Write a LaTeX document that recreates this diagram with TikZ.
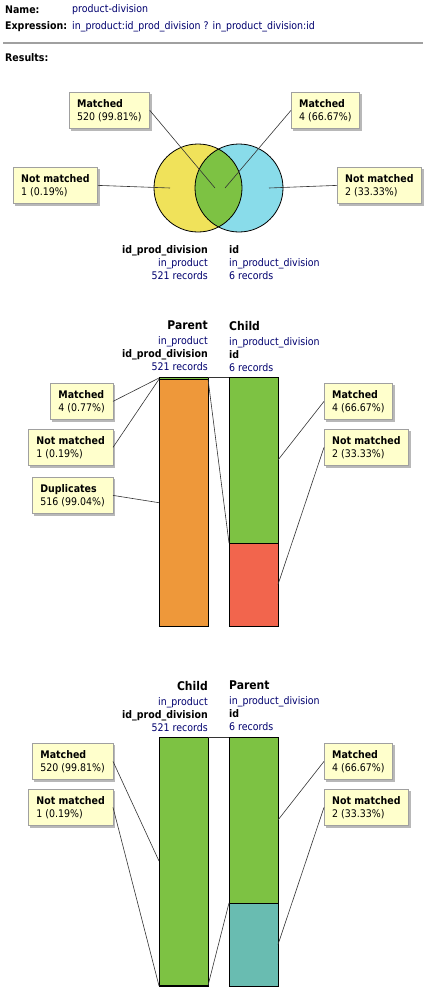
\documentclass[tikz,border=0pt]{standalone}
\usepackage{fontspec}
\setmainfont{DejaVu Sans Condensed}
\usetikzlibrary{positioning,shadows}
\definecolor{rsNavy}{HTML}{00006E}
\definecolor{rsRule}{HTML}{A0A0A0}
\definecolor{noteFill}{HTML}{FFFFCC}
\definecolor{noteEdge}{HTML}{A0A0A0}
\definecolor{noteShadow}{HTML}{B8B8B8}
\definecolor{setYellow}{HTML}{F0E25A}
\definecolor{setBlue}{HTML}{89DCEA}
\definecolor{setGreen}{HTML}{7DC243}
\definecolor{setOrange}{HTML}{EE983A}
\definecolor{setRed}{HTML}{F2654D}
\definecolor{setTeal}{HTML}{69BCB1}

\begin{document}
\begin{tikzpicture}[x=1pt, y=-1pt,
                    note/.style={draw=noteEdge, fill=noteFill, align=left, inner xsep=8pt, inner ysep=7pt,
                                 font=\fontsize{10.5}{13}\selectfont,
                                 drop shadow={shadow xshift=2pt, shadow yshift=-2pt, fill=noteShadow, opacity=1}},
                    hdr/.style={inner sep=0pt, font=\fontsize{10.5}{13}\selectfont, text=rsNavy},
                    key/.style={inner sep=0pt, font=\fontsize{10.5}{13}\selectfont\bfseries, text=black},
                    lead/.style={draw=black!80, line width=0.6pt},
                    bar/.style={draw=black, line width=0.8pt}
                ]
                    \useasboundingbox (0,0) rectangle (433,1001);

                    % header
                    \node[key, anchor=west] (name-key) at (5,10) {Name:};
                    \node[hdr, anchor=west] (name-val) at (72,10) {product-division};
                    \node[key, anchor=west] (expr-key) at (5,27) {Expression:};
                    \node[hdr, anchor=west] (expr-val) at (72,27) {in\_product:id\_prod\_division ? in\_product\_division:id};
                    \draw[rsRule, line width=1.2pt] (3,43) -- (423,43);
                    \node[key, anchor=west] (res-key) at (5,58) {Results:};

                    % venn
                    \fill[setYellow] (198,188) circle[radius=44];
                    \fill[setBlue] (239,188) circle[radius=44];
                    \begin{scope}
                        \clip (198,188) circle[radius=44];
                        \fill[setGreen] (239,188) circle[radius=44];
                    \end{scope}
                    \draw[bar] (198,188) circle[radius=44];
                    \draw[bar] (239,188) circle[radius=44];
                    \coordinate (v-in-l) at (215,188);
                    \coordinate (v-in-r) at (225,188);
                    \coordinate (v-out-l) at (170,188);
                    \coordinate (v-out-r) at (269,188);

                    \node[note, anchor=north west] (v-match-l) at (69,92) {\textbf{Matched}\\520 (99.81\%)};
                    \node[note, anchor=north west] (v-match-r) at (291,92) {\textbf{Matched}\\4 (66.67\%)};
                    \node[note, anchor=north west] (v-miss-l) at (13,167) {\textbf{Not matched}\\1 (0.19\%)};
                    \node[note, anchor=north west] (v-miss-r) at (337,167) {\textbf{Not matched}\\2 (33.33\%)};
                    \draw[lead] (v-match-l.east) -- (v-in-l);
                    \draw[lead] (v-match-r.west) -- (v-in-r);
                    \draw[lead] (v-miss-l.east) -- (v-out-l);
                    \draw[lead] (v-miss-r.west) -- (v-out-r);

                    \node[hdr, anchor=north east, align=right] (v-col-l) at (208,245.5)
                        {\textcolor{black}{\textbf{id\_prod\_division}}\\in\_product\\521 records};
                    \node[hdr, anchor=north west, align=left] (v-col-r) at (229,245.5)
                        {\textcolor{black}{\textbf{id}}\\in\_product\_division\\6 records};

                    % parent -> child
                    \node[hdr, anchor=north east, align=right] (a-col-l) at (208,321)
                        {\textcolor{black}{\fontsize{12}{13}\selectfont\bfseries Parent}\\[2pt]in\_product\\\textcolor{black}{\textbf{id\_prod\_division}}\\521 records};
                    \node[hdr, anchor=north west, align=left] (a-col-r) at (229,321)
                        {\textcolor{black}{\fontsize{12}{13}\selectfont\bfseries Child}\\[2pt]in\_product\_division\\\textcolor{black}{\textbf{id}}\\6 records};

                    \filldraw[bar, fill=setGreen] (159,377) rectangle (208,378.9);
                    \fill[setRed] (159,378.9) rectangle (208,379.4);
                    \filldraw[bar, fill=setOrange] (159,379.4) rectangle (208,626);
                    \filldraw[bar, fill=setGreen] (229,377) rectangle (278,543);
                    \filldraw[bar, fill=setRed] (229,543) rectangle (278,626);
                    \coordinate (a-l-top) at (208,377);
                    \coordinate (a-r-top) at (229,377);
                    \coordinate (a-l-cut) at (208,379);
                    \coordinate (a-r-cut) at (229,543);
                    \coordinate (a-l-match) at (159,378);
                    \coordinate (a-l-miss) at (159,379.2);
                    \coordinate (a-l-dup) at (159,502.7);
                    \coordinate (a-r-match) at (278,460);
                    \coordinate (a-r-miss) at (278,584.5);
                    \draw[lead] (a-l-top) -- (a-r-top);
                    \draw[lead] (a-l-cut) -- (a-r-cut);

                    \node[note, anchor=north east] (a-match-l) at (113,383) {\textbf{Matched}\\4 (0.77\%)};
                    \node[note, anchor=north east] (a-miss-l) at (113,429) {\textbf{Not matched}\\1 (0.19\%)};
                    \node[note, anchor=north east] (a-dup-l) at (113,477) {\textbf{Duplicates}\\516 (99.04\%)};
                    \node[note, anchor=north west] (a-match-r) at (324,383) {\textbf{Matched}\\4 (66.67\%)};
                    \node[note, anchor=north west] (a-miss-r) at (324,429) {\textbf{Not matched}\\2 (33.33\%)};
                    \draw[lead] (a-match-l.east) -- (a-l-match);
                    \draw[lead] (a-miss-l.east) -- (a-l-miss);
                    \draw[lead] (a-dup-l.east) -- (a-l-dup);
                    \draw[lead] (a-match-r.west) -- (a-r-match);
                    \draw[lead] (a-miss-r.west) -- (a-r-miss);

                    % child -> parent
                    \node[hdr, anchor=north east, align=right] (b-col-l) at (208,681)
                        {\textcolor{black}{\fontsize{12}{13}\selectfont\bfseries Child}\\[2pt]in\_product\\\textcolor{black}{\textbf{id\_prod\_division}}\\521 records};
                    \node[hdr, anchor=north west, align=left] (b-col-r) at (229,681)
                        {\textcolor{black}{\fontsize{12}{13}\selectfont\bfseries Parent}\\[2pt]in\_product\_division\\\textcolor{black}{\textbf{id}}\\6 records};

                    \filldraw[bar, fill=setGreen] (159,737) rectangle (208,985.5);
                    \fill[setRed] (159,985.5) rectangle (208,986);
                    \draw[bar] (159,737) rectangle (208,986);
                    \filldraw[bar, fill=setGreen] (229,737) rectangle (278,903);
                    \filldraw[bar, fill=setTeal] (229,903) rectangle (278,986);
                    \coordinate (b-l-top) at (208,737);
                    \coordinate (b-r-top) at (229,737);
                    \coordinate (b-l-cut) at (208,985.5);
                    \coordinate (b-r-cut) at (229,903);
                    \coordinate (b-l-match) at (159,861);
                    \coordinate (b-l-miss) at (159,985.8);
                    \coordinate (b-r-match) at (278,820);
                    \coordinate (b-r-miss) at (278,944.5);
                    \draw[lead] (b-l-top) -- (b-r-top);
                    \draw[lead] (b-l-cut) -- (b-r-cut);

                    \node[note, anchor=north east] (b-match-l) at (113,743) {\textbf{Matched}\\520 (99.81\%)};
                    \node[note, anchor=north east] (b-miss-l) at (113,789) {\textbf{Not matched}\\1 (0.19\%)};
                    \node[note, anchor=north west] (b-match-r) at (324,743) {\textbf{Matched}\\4 (66.67\%)};
                    \node[note, anchor=north west] (b-miss-r) at (324,789) {\textbf{Not matched}\\2 (33.33\%)};
                    \draw[lead] (b-match-l.east) -- (b-l-match);
                    \draw[lead] (b-miss-l.east) -- (b-l-miss);
                    \draw[lead] (b-match-r.west) -- (b-r-match);
                    \draw[lead] (b-miss-r.west) -- (b-r-miss);
                \end{tikzpicture}
\end{document}
